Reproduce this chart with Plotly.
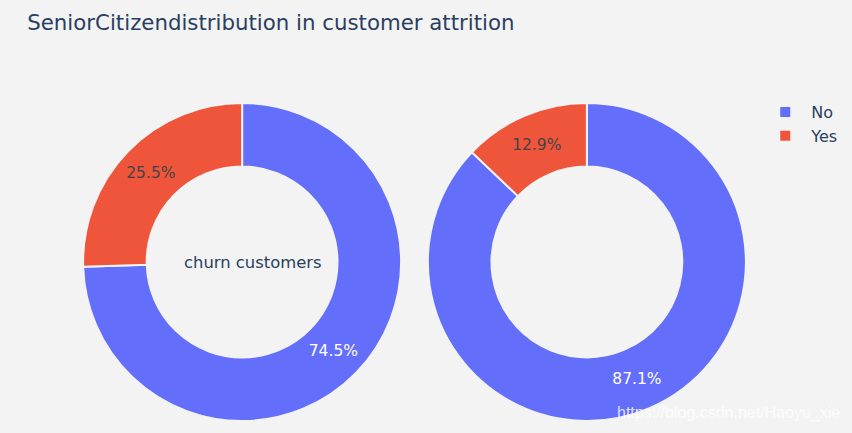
import plotly.graph_objects as go

labels = ["No", "Yes"]
churn_values = [1393, 476]
non_churn_values = [4508, 666]
title_text = "SeniorCitizendistribution in customer attrition"
annotation_text = "churn customers"
watermark_text = "https://blog.csdn.net/Haoyu_xie"

FONT = "DejaVu Sans"
BG = "rgb(243,243,243)"

fig = go.Figure()
fig.add_trace(go.Pie(
    labels=labels, values=churn_values, hole=0.6,
    domain=dict(x=[0, 0.48], y=[0, 1]),
    marker=dict(colors=["#636EFA", "#EF553B"], line=dict(width=2, color=BG)),
    textinfo="percent", sort=True, direction="clockwise", rotation=0,
    name="Churn Customers", textfont=dict(size=15.5),
))
fig.add_trace(go.Pie(
    labels=labels, values=non_churn_values, hole=0.6,
    domain=dict(x=[0.52, 1], y=[0, 1]),
    marker=dict(colors=["#636EFA", "#EF553B"], line=dict(width=2, color=BG)),
    textinfo="percent", sort=True, direction="clockwise", rotation=0,
    name="Non churn customers", textfont=dict(size=15.5),
))

fig.update_layout(
    template="plotly",
    width=852, height=433,
    paper_bgcolor=BG, plot_bgcolor=BG,
    font=dict(family=FONT, size=16, color="#2a3f5f"),
    title=dict(text=title_text, x=0.032, xanchor="left", y=0.948, yanchor="middle",
               font=dict(size=21.3, family=FONT)),
    margin=dict(l=83, r=106, t=103, b=12, autoexpand=False),
    legend=dict(x=1.02, y=1.025, xanchor="left", yanchor="top", itemwidth=42,
                font=dict(size=16), tracegroupgap=0),
    annotations=[
        dict(text=annotation_text, x=0.256, y=0.5, xref="paper", yref="paper",
             xanchor="center", yanchor="middle", showarrow=False,
             font=dict(size=16.4, family=FONT)),
        dict(text=watermark_text, x=1.145, y=0.025, xref="paper", yref="paper",
             xanchor="right", yanchor="middle", showarrow=False,
             font=dict(size=16, family="Liberation Sans", color="rgba(255,255,255,0.8)")),
    ],
)

fig.write_html("out.html", config={"displayModeBar": False},
               post_script="document.body.style.margin='0';document.body.style.padding='0';")
